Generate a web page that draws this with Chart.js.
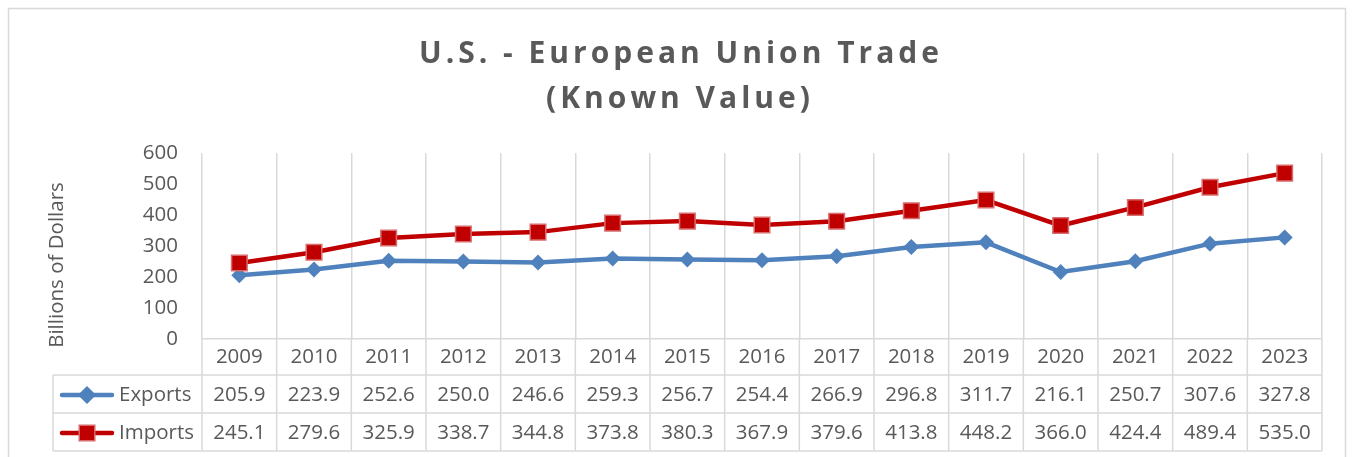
<!DOCTYPE html>
<html>
<head>
<meta charset="utf-8">
<script src="https://cdn.jsdelivr.net/npm/chart.js@4/dist/chart.umd.min.js"></script>
<style>
  html, body { margin: 0; padding: 0; background: #fff; }
</style>
</head>
<body>
<canvas id="tradeChart" width="1353" height="457"></canvas>
<script>
var years = ['2009', '2010', '2011', '2012', '2013', '2014', '2015', '2016', '2017', '2018', '2019', '2020', '2021', '2022', '2023'];
var exportsValues = [205.9, 223.9, 252.6, 250.0, 246.6, 259.3, 256.7, 254.4, 266.9, 296.8, 311.7, 216.1, 250.7, 307.6, 327.8];
var importsValues = [245.1, 279.6, 325.9, 338.7, 344.8, 373.8, 380.3, 367.9, 379.6, 413.8, 448.2, 366.0, 424.4, 489.4, 535.0];
var titleLines = ['U.S. - European Union Trade', '(Known Value)'];
var yAxisTitle = 'Billions of Dollars';

var textColor = '#595959';
var gridColor = '#d9d9d9';
var fontFamily = '"Open Sans", sans-serif';
var fontSize = 20.5;
var exportsColor = '#4f81bd';
var importsColor = '#c00000';

// title, y axis title and the data table underneath the plot
var tablePlugin = {
    id: 'dataTable',
    beforeDraw: function (chart) {
        var ctx = chart.ctx;
        ctx.save();
        ctx.fillStyle = '#fff';
        ctx.fillRect(0, 0, chart.width, chart.height);
        ctx.strokeStyle = gridColor;
        ctx.lineWidth = 1.5;
        ctx.strokeRect(8.5, 8.5, 1337, 470);
        ctx.restore();
    },
    afterDraw: function (chart) {
        var ctx = chart.ctx;
        var xs = chart.scales.x;
        var area = chart.chartArea;
        var rowTop = xs.bottom;
        var rowH = 38;
        var legendLeft = 53;
        var half = (xs.getPixelForTick(1) - xs.getPixelForTick(0)) / 2;

        ctx.save();
        // title
        ctx.fillStyle = textColor;
        ctx.font = 'bold 30px ' + fontFamily;
        ctx.letterSpacing = '4px';
        ctx.textAlign = 'center';
        ctx.textBaseline = 'alphabetic';
        ctx.fillText(titleLines[0], 681, 63);
        ctx.fillText(titleLines[1], 680, 108);
        ctx.letterSpacing = '0px';

        // y axis title
        ctx.save();
        ctx.translate(57, 265);
        ctx.rotate(-Math.PI / 2);
        ctx.font = fontSize + 'px ' + fontFamily;
        ctx.textBaseline = 'middle';
        ctx.fillText(yAxisTitle, 0, 0);
        ctx.restore();

        // table grid
        ctx.strokeStyle = gridColor;
        ctx.lineWidth = 1.5;
        ctx.beginPath();
        for (var r = 0; r <= 2; r++) {
            var y = rowTop + r * rowH;
            ctx.moveTo(legendLeft, y);
            ctx.lineTo(area.right, y);
        }
        ctx.moveTo(legendLeft, rowTop);
        ctx.lineTo(legendLeft, rowTop + 2 * rowH);
        for (var i = 0; i <= years.length; i++) {
            var gx = i < years.length ? xs.getPixelForTick(i) - half : xs.getPixelForTick(i - 1) + half;
            ctx.moveTo(gx, area.bottom);
            ctx.lineTo(gx, rowTop + 2 * rowH);
        }
        ctx.stroke();

        // table values
        var rows = [
            { label: 'Exports', values: exportsValues, color: exportsColor, style: 'rectRot', radius: 8, border: exportsColor },
            { label: 'Imports', values: importsValues, color: importsColor, style: 'rect', radius: 11, border: '#d86b6b' }
        ];
        ctx.font = fontSize + 'px ' + fontFamily;
        ctx.textBaseline = 'middle';
        rows.forEach(function (row, r) {
            var cy = rowTop + r * rowH + rowH / 2 + 1;
            ctx.fillStyle = textColor;
            ctx.textAlign = 'center';
            row.values.forEach(function (v, i) {
                ctx.fillText(v.toFixed(1), xs.getPixelForTick(i), cy);
            });
            ctx.textAlign = 'left';
            ctx.fillText(row.label, 119, cy);

            // legend key
            ctx.strokeStyle = row.color;
            ctx.lineWidth = 4.5;
            ctx.lineCap = 'round';
            ctx.beginPath();
            ctx.moveTo(62, cy);
            ctx.lineTo(112, cy);
            ctx.stroke();
            ctx.fillStyle = row.color;
            ctx.strokeStyle = row.border;
            ctx.lineWidth = 1.5;
            Chart.helpers.drawPoint(ctx, { pointStyle: row.style, radius: row.radius, rotation: 0, borderWidth: 1.5 }, 87, cy);
        });
        ctx.restore();
    }
};

var ctx = document.getElementById('tradeChart').getContext('2d');
var tradeChart = new Chart(ctx, {
    type: 'line',
    data: {
        labels: years,
        datasets: [{
            label: 'Exports',
            data: exportsValues,
            borderColor: exportsColor,
            backgroundColor: exportsColor,
            borderWidth: 4.5,
            pointStyle: 'rectRot',
            pointRadius: 8,
            pointBorderWidth: 0,
            pointBackgroundColor: exportsColor,
            tension: 0,
            order: 1
        }, {
            label: 'Imports',
            data: importsValues,
            borderColor: importsColor,
            backgroundColor: importsColor,
            borderWidth: 4.5,
            pointStyle: 'rect',
            pointRadius: 11,
            pointBorderWidth: 1.5,
            pointBorderColor: '#d86b6b',
            pointBackgroundColor: importsColor,
            tension: 0,
            order: 0
        }]
    },
    options: {
        responsive: false,
        animation: false,
        devicePixelRatio: 1,
        layout: { padding: { top: 153, left: 10, right: 31, bottom: 82 } },
        plugins: {
            legend: { display: false },
            title: { display: false },
            tooltip: { enabled: false }
        },
        scales: {
            x: {
                offset: true,
                grid: { offset: true, color: gridColor, lineWidth: 1.5, drawTicks: false },
                border: { color: gridColor, width: 1.5 },
                ticks: { color: textColor, font: { family: fontFamily, size: fontSize }, padding: 6 },
                afterFit: function (s) { s.height = 36; }
            },
            y: {
                min: 0,
                max: 600,
                grid: { display: false, drawTicks: false },
                border: { display: false },
                ticks: { stepSize: 100, color: textColor, font: { family: fontFamily, size: fontSize }, padding: 24 },
                afterFit: function (s) { s.width = 192; }
            }
        }
    },
    plugins: [tablePlugin]
});
</script>
</body>
</html>
